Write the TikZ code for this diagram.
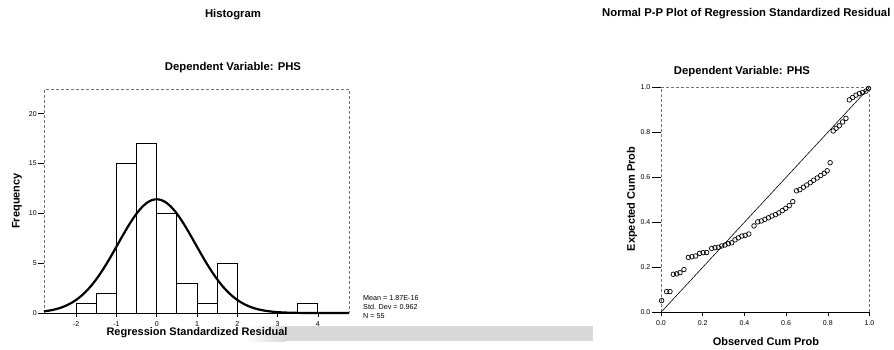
\documentclass[tikz,border=0pt]{standalone}
\usepackage{fontspec}
\setmainfont{Liberation Sans}
\begin{document}
\begin{tikzpicture}[x=1pt,y=-1pt,
  ttl/.style={font=\bfseries\fontsize{11.3}{13}\selectfont, inner sep=0pt},
  axlab/.style={font=\bfseries\fontsize{11}{13}\selectfont, inner sep=0pt},
  ticklab/.style={font=\fontsize{7}{8}\selectfont, inner sep=0pt},
  statlab/.style={font=\fontsize{7.2}{8}\selectfont, inner sep=0pt, anchor=base west},
  frameline/.style={black!55, densely dashed, line width=0.5pt},
  axisline/.style={black, line width=0.8pt},
  bar/.style={draw=black, fill=white, line width=0.9pt},
  dot/.style={draw=black, line width=0.7pt},
]
\useasboundingbox (0,0) rectangle (894,349);
% scan band
\fill[gray!30] (285,326) rectangle (593,341);
\shade[left color=white, right color=gray!30] (245,326) rectangle (285.5,341);

% titles
\node[ttl] (htitle) at (233,15) {Histogram};
\node[ttl, anchor=west] (ptitle) at (602,14) {Normal P-P Plot of Regression Standardized Residual};
\node[ttl] (hdep) at (233,68) {Dependent Variable: PHS};
\node[ttl] (pdep) at (742,72) {Dependent Variable: PHS};

% ---------------- histogram ----------------
\begin{scope}[shift={(156.7,313)}, x=40.3pt, y=9.97pt]
  \foreach \a/\h in {-2/1,-1.5/2,-1/15,-0.5/17,0/10,0.5/3,1/1,1.5/5,3.5/1}
    \draw[bar] (\a,0) rectangle ({\a+0.5},\h);
  \draw[frameline] (-2.8,0) -- (-2.8,22.4) -- (4.77,22.4) -- (4.77,0);
  \draw[axisline] (-2.93,0) -- (4.77,0);
  \draw[line width=2.2pt, line join=round]
    plot[domain=-2.8:4.77, samples=160, smooth] (\x, {11.404*exp(-(\x*\x)/(2*0.925444))});
  \foreach \v in {0,5,10,15,20} {
    \draw[line width=0.6pt] (-2.8,\v) -- ++(-6pt,0pt);
    \node[ticklab, anchor=east] (hy\v) at ([xshift=-7pt]-2.8,\v) {\v};
  }
  \foreach \v/\t in {-2/-2,-1/-1,0/0,1/1,2/2,3/3,4/4} {
    \draw[line width=0.6pt] (\v,0) -- ++(0pt,-4pt);
    \node[ticklab] (hx\v) at ([yshift=-11pt]\v,0) {\t};
  }
\end{scope}
\node[axlab, rotate=90] (hfreq) at (17,201) {Frequency};
\node[axlab] (hxlab) at (197,333) {Regression Standardized Residual};
\node[statlab] (smean) at (363,300.5) {Mean = 1.87E-16};
\node[statlab] (ssd) at (363,309.5) {Std. Dev = 0.962};
\node[statlab] (sn) at (363,318.5) {N = 55};

% ---------------- P-P plot ----------------
\begin{scope}[shift={(661,312.3)}, x=208.5pt, y=225pt]
  \draw[frameline] (0,0) -- (0,1) -- (1,1) -- (1,0);
  \draw[axisline] (0,0) -- (1,0);
  \draw[line width=0.6pt] (0,0) -- (1,1);
  \foreach \v/\t in {0/0.0,0.2/0.2,0.4/0.4,0.6/0.6,0.8/0.8,1/1.0} {
    \draw[line width=0.6pt] (0,\v) -- ++(-9pt,0pt);
    \node[ticklab, anchor=east] (py\t) at ([xshift=-10.5pt]0,\v) {\t};
    \draw[line width=0.6pt] (\v,0) -- ++(0pt,-4pt);
    \node[ticklab] (px\t) at ([yshift=-11pt]\v,0) {\t};
  }
  \foreach \p/\q in {0.003/0.052,
    0.027/0.092,0.043/0.092,
    0.059/0.169,0.075/0.171,0.091/0.176,0.110/0.19,
    0.131/0.244,0.148/0.247,0.166/0.25,0.185/0.262,0.202/0.265,0.219/0.266,
    0.243/0.284,0.259/0.287,0.275/0.289,0.291/0.295,0.307/0.299,0.323/0.305,0.339/0.309,
    0.355/0.322,0.371/0.331,0.388/0.339,0.404/0.342,0.421/0.348,
    0.446/0.384,0.464/0.402,0.481/0.406,0.498/0.413,0.515/0.42,0.532/0.428,
    0.549/0.434,0.565/0.442,0.582/0.452,0.598/0.462,0.615/0.474,0.632/0.492,
    0.650/0.54,0.666/0.545,0.683/0.556,0.699/0.566,0.716/0.576,0.732/0.587,0.749/0.597,0.766/0.608,0.783/0.618,0.797/0.629,
    0.811/0.665,
    0.826/0.806,0.84/0.818,0.855/0.829,0.871/0.846,0.887/0.862,
    0.903/0.944,0.919/0.955,0.935/0.965,0.951/0.972,0.967/0.977,0.983/0.983,0.995/0.995}
    \draw[dot] (\p,\q) circle[radius=2.3pt];
\end{scope}
\node[axlab, rotate=90] (pylab) at (632,199) {Expected Cum Prob};
\node[axlab] (pxlab) at (766,342) {Observed Cum Prob};
\end{tikzpicture}
\end{document}
